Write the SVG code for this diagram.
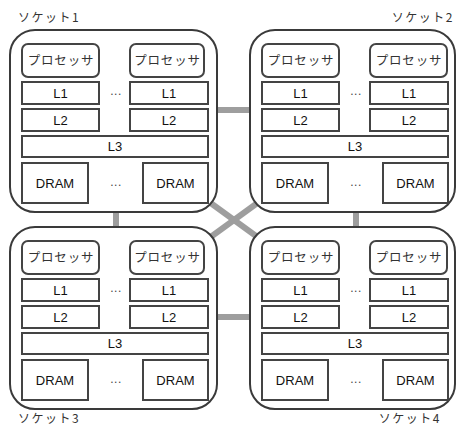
<svg xmlns="http://www.w3.org/2000/svg" width="456" height="425" viewBox="0 0 456 425">
<style>
.sock{fill:#fff;stroke:#3a3a3a;stroke-width:2}
.box{fill:#fff;stroke:#444;stroke-width:2}
.conn{stroke:#9e9e9e;stroke-width:6;fill:none}
.t{font-family:"Liberation Sans",Arial,sans-serif;font-size:13px;fill:#111;text-anchor:middle}
.jp{font-family:"Noto Sans CJK JP","Noto Sans",sans-serif;font-size:12.5px;fill:#333;text-anchor:middle;letter-spacing:0.8px}
.lab{font-family:"Noto Sans CJK JP","Noto Sans",sans-serif;font-size:12px;fill:#333;letter-spacing:1.5px}
.dots{font-family:"Liberation Sans",Arial,sans-serif;font-size:12px;fill:#444;text-anchor:middle;letter-spacing:0.5px}
</style>
<g id="connectors">
<line class="conn" x1="210" y1="110" x2="258" y2="110"/>
<line class="conn" x1="210" y1="317" x2="258" y2="317"/>
<line class="conn" x1="116" y1="205" x2="116" y2="235"/>
<line class="conn" x1="356" y1="205" x2="356" y2="235"/>
<line class="conn" x1="190" y1="188" x2="278" y2="252"/>
<line class="conn" x1="278" y1="188" x2="190" y2="252"/>
</g>
<g id="socket1" transform="translate(10,30)">
<rect class="sock" x="0" y="0" width="207" height="182" rx="25"/>
<g id="s1-proc-a"><rect class="box" x="12" y="14" width="77" height="33" rx="6"/><text class="jp" x="51" y="35">プロセッサ</text></g>
<g id="s1-proc-b"><rect class="box" x="120" y="14" width="74" height="33" rx="6"/><text class="jp" x="157.5" y="35">プロセッサ</text></g>
<g id="s1-l1-a"><rect class="box" x="12" y="52" width="77" height="22"/><text class="t" x="50.5" y="67.5">L1</text></g>
<g id="s1-l1-b"><rect class="box" x="120" y="52" width="78" height="22"/><text class="t" x="159" y="67.5">L1</text></g>
<g id="s1-l2-a"><rect class="box" x="12" y="79" width="77" height="22"/><text class="t" x="50.5" y="94.5">L2</text></g>
<g id="s1-l2-b"><rect class="box" x="120" y="79" width="78" height="22"/><text class="t" x="159" y="94.5">L2</text></g>
<g id="s1-l3"><rect class="box" x="12" y="106" width="186" height="21"/><text class="t" x="105" y="121">L3</text></g>
<g id="s1-dram-a"><rect class="box" x="12" y="133" width="66" height="40"/><text class="t" x="45" y="157.5">DRAM</text></g>
<g id="s1-dram-b"><rect class="box" x="133" y="133" width="65" height="40"/><text class="t" x="165.5" y="157.5">DRAM</text></g>
<text class="dots" x="106" y="65">...</text><text class="dots" x="106" y="156">...</text>
</g>
<g id="socket2" transform="translate(250,30)">
<rect class="sock" x="0" y="0" width="205" height="182" rx="25"/>
<g id="s2-proc-a"><rect class="box" x="12" y="14" width="77" height="33" rx="6"/><text class="jp" x="51" y="35">プロセッサ</text></g>
<g id="s2-proc-b"><rect class="box" x="120" y="14" width="77" height="33" rx="6"/><text class="jp" x="159" y="35">プロセッサ</text></g>
<g id="s2-l1-a"><rect class="box" x="12" y="52" width="77" height="22"/><text class="t" x="50.5" y="67.5">L1</text></g>
<g id="s2-l1-b"><rect class="box" x="120" y="52" width="78" height="22"/><text class="t" x="159" y="67.5">L1</text></g>
<g id="s2-l2-a"><rect class="box" x="12" y="79" width="77" height="22"/><text class="t" x="50.5" y="94.5">L2</text></g>
<g id="s2-l2-b"><rect class="box" x="120" y="79" width="78" height="22"/><text class="t" x="159" y="94.5">L2</text></g>
<g id="s2-l3"><rect class="box" x="12" y="106" width="186" height="21"/><text class="t" x="105" y="121">L3</text></g>
<g id="s2-dram-a"><rect class="box" x="12" y="133" width="66" height="40"/><text class="t" x="45" y="157.5">DRAM</text></g>
<g id="s2-dram-b"><rect class="box" x="133" y="133" width="65" height="40"/><text class="t" x="165.5" y="157.5">DRAM</text></g>
<text class="dots" x="106" y="65">...</text><text class="dots" x="106" y="156">...</text>
</g>
<g id="socket3" transform="translate(10,227)">
<rect class="sock" x="0" y="0" width="207" height="182" rx="25"/>
<g id="s3-proc-a"><rect class="box" x="12" y="14" width="77" height="33" rx="6"/><text class="jp" x="51" y="35">プロセッサ</text></g>
<g id="s3-proc-b"><rect class="box" x="120" y="14" width="74" height="33" rx="6"/><text class="jp" x="157.5" y="35">プロセッサ</text></g>
<g id="s3-l1-a"><rect class="box" x="12" y="52" width="77" height="22"/><text class="t" x="50.5" y="67.5">L1</text></g>
<g id="s3-l1-b"><rect class="box" x="120" y="52" width="78" height="22"/><text class="t" x="159" y="67.5">L1</text></g>
<g id="s3-l2-a"><rect class="box" x="12" y="79" width="77" height="22"/><text class="t" x="50.5" y="94.5">L2</text></g>
<g id="s3-l2-b"><rect class="box" x="120" y="79" width="78" height="22"/><text class="t" x="159" y="94.5">L2</text></g>
<g id="s3-l3"><rect class="box" x="12" y="106" width="186" height="21"/><text class="t" x="105" y="121">L3</text></g>
<g id="s3-dram-a"><rect class="box" x="12" y="133" width="66" height="40"/><text class="t" x="45" y="157.5">DRAM</text></g>
<g id="s3-dram-b"><rect class="box" x="133" y="133" width="65" height="40"/><text class="t" x="165.5" y="157.5">DRAM</text></g>
<text class="dots" x="106" y="65">...</text><text class="dots" x="106" y="156">...</text>
</g>
<g id="socket4" transform="translate(250,227)">
<rect class="sock" x="0" y="0" width="205" height="182" rx="25"/>
<g id="s4-proc-a"><rect class="box" x="12" y="14" width="77" height="33" rx="6"/><text class="jp" x="51" y="35">プロセッサ</text></g>
<g id="s4-proc-b"><rect class="box" x="120" y="14" width="77" height="33" rx="6"/><text class="jp" x="159" y="35">プロセッサ</text></g>
<g id="s4-l1-a"><rect class="box" x="12" y="52" width="77" height="22"/><text class="t" x="50.5" y="67.5">L1</text></g>
<g id="s4-l1-b"><rect class="box" x="120" y="52" width="78" height="22"/><text class="t" x="159" y="67.5">L1</text></g>
<g id="s4-l2-a"><rect class="box" x="12" y="79" width="77" height="22"/><text class="t" x="50.5" y="94.5">L2</text></g>
<g id="s4-l2-b"><rect class="box" x="120" y="79" width="78" height="22"/><text class="t" x="159" y="94.5">L2</text></g>
<g id="s4-l3"><rect class="box" x="12" y="106" width="186" height="21"/><text class="t" x="105" y="121">L3</text></g>
<g id="s4-dram-a"><rect class="box" x="12" y="133" width="66" height="40"/><text class="t" x="45" y="157.5">DRAM</text></g>
<g id="s4-dram-b"><rect class="box" x="133" y="133" width="65" height="40"/><text class="t" x="165.5" y="157.5">DRAM</text></g>
<text class="dots" x="106" y="65">...</text><text class="dots" x="106" y="156">...</text>
</g>
<g id="labels">
<text class="lab" x="18" y="22">ソケット1</text>
<text class="lab" x="454" y="22" text-anchor="end">ソケット2</text>
<text class="lab" x="18" y="423">ソケット3</text>
<text class="lab" x="441" y="423" text-anchor="end">ソケット4</text>
</g>
</svg>
